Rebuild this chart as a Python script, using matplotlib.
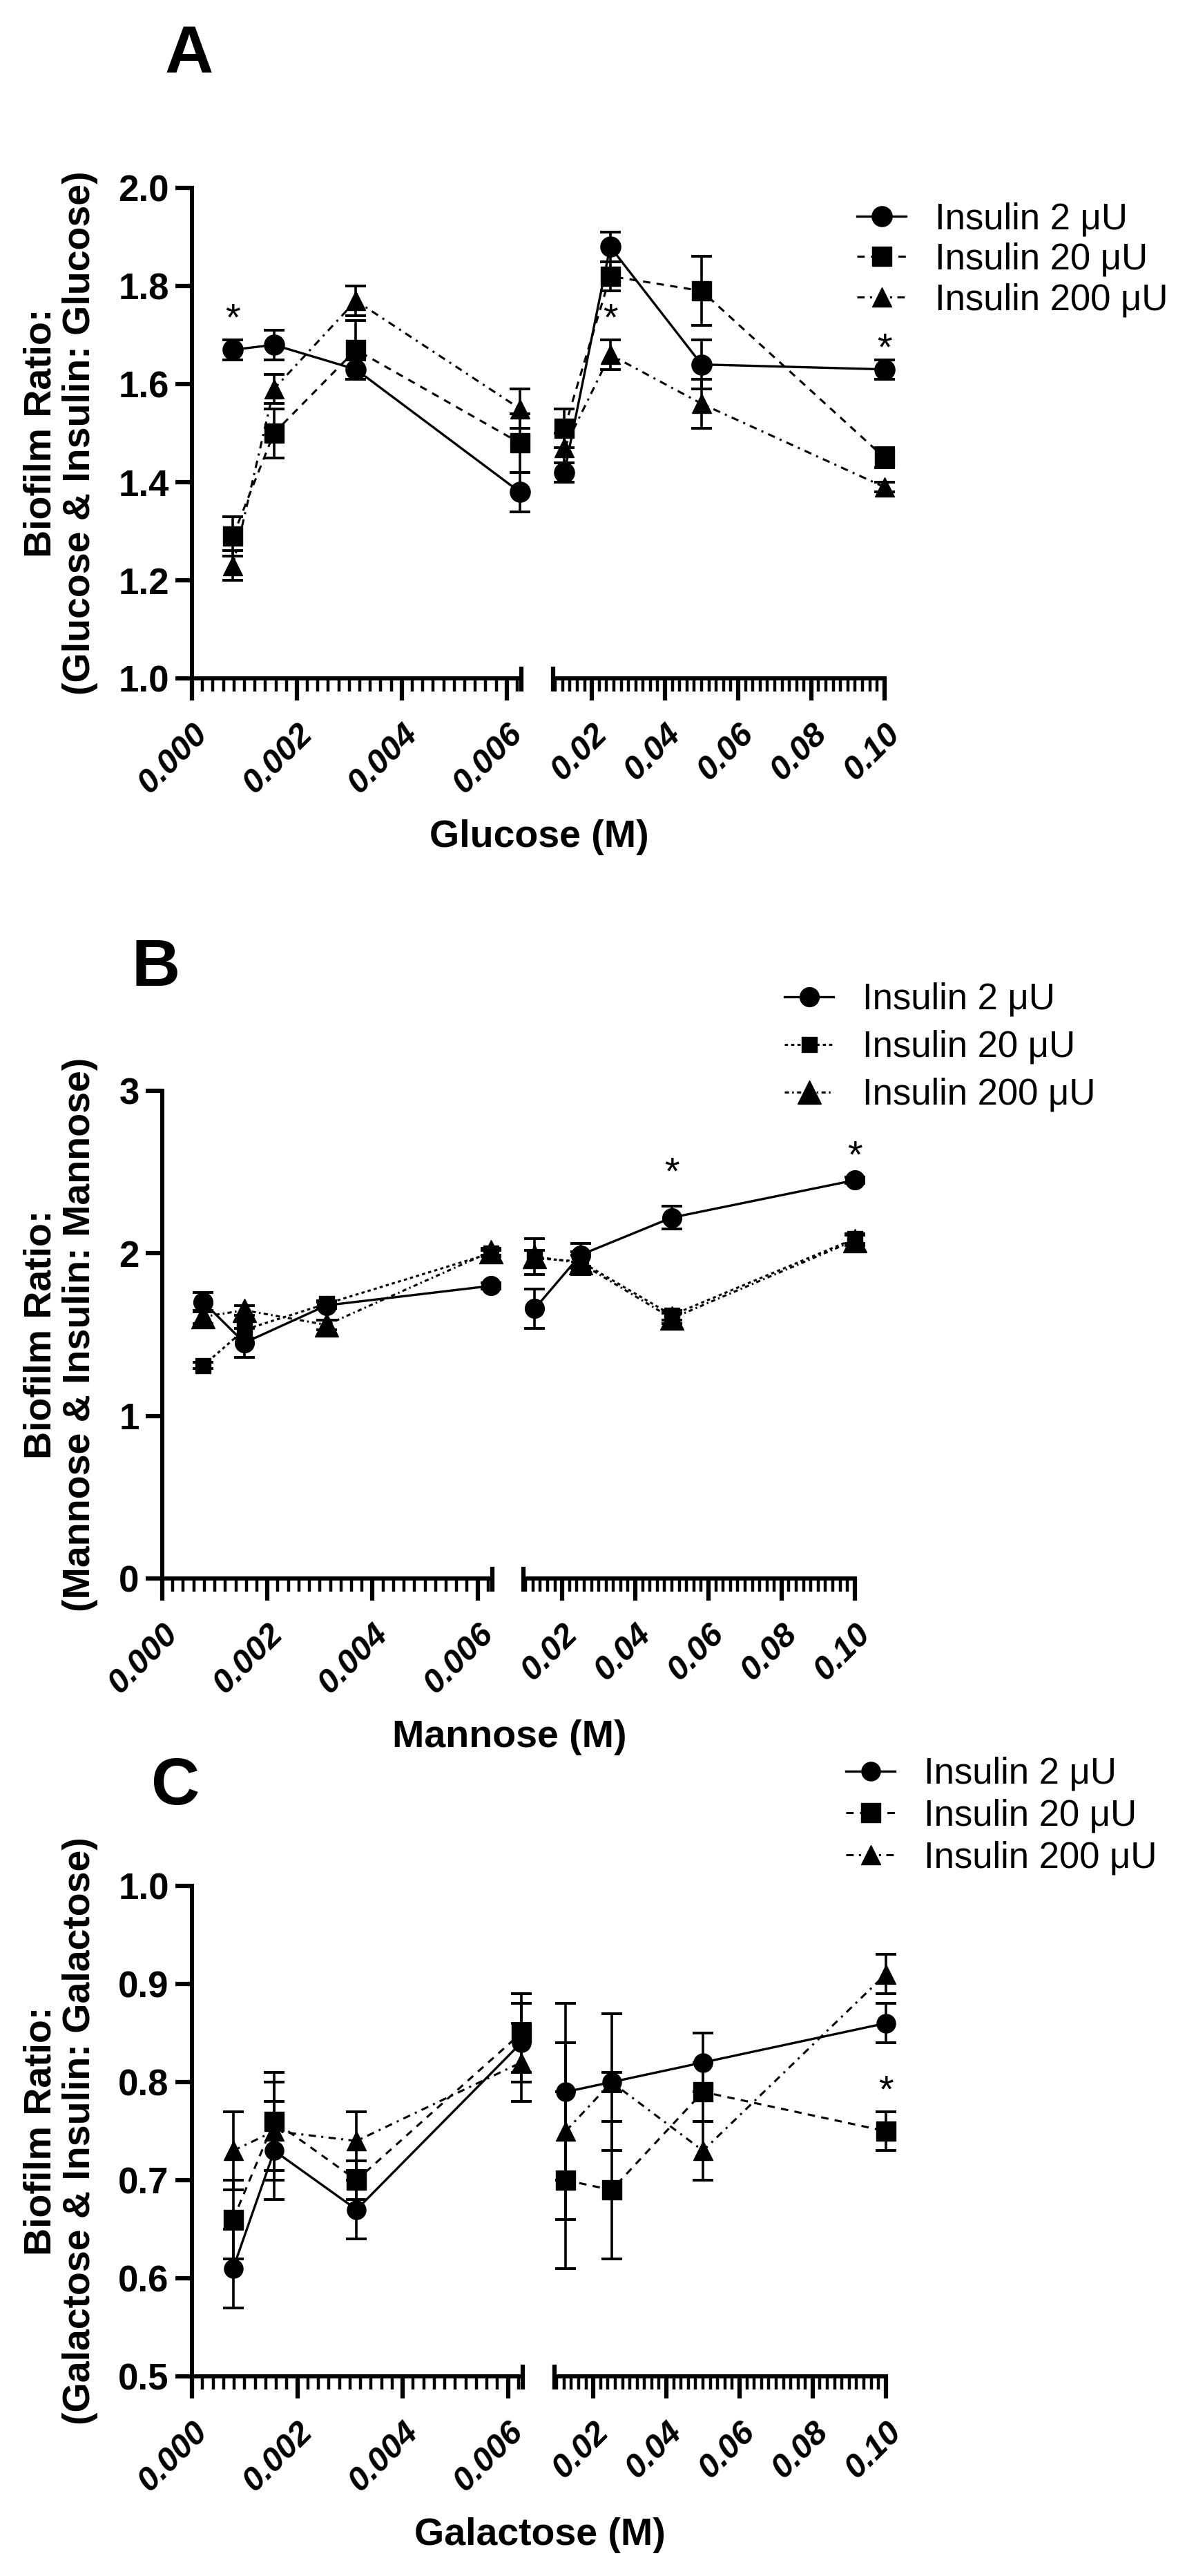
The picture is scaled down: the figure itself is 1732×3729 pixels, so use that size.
import matplotlib
matplotlib.use("Agg")
import matplotlib.pyplot as plt
from matplotlib.ticker import MultipleLocator

plt.rcParams['font.family'] = ['Liberation Sans', 'DejaVu Sans']

W, H = 1732, 3729

# concentrations (M), split by the axis break
conc_low = [0.00078125, 0.0015625, 0.003125, 0.00625]
conc_high = [0.0125, 0.025, 0.05, 0.1]

low_ticks = [0.000, 0.002, 0.004, 0.006]
low_ticklabels = ["0.000", "0.002", "0.004", "0.006"]
high_ticks = [0.02, 0.04, 0.06, 0.08, 0.10]
high_ticklabels = ["0.02", "0.04", "0.06", "0.08", "0.10"]

series_labels = ["Insulin 2 μU", "Insulin 20 μU", "Insulin 200 μU"]

# A - glucose
glu_ins2 = [1.67, 1.68, 1.63, 1.38, 1.42, 1.88, 1.64, 1.63]
glu_ins2_err = [0.02, 0.03, 0.02, 0.04, 0.02, 0.03, 0.05, 0.02]
glu_ins20 = [1.29, 1.50, 1.67, 1.48, 1.51, 1.82, 1.79, 1.45]
glu_ins20_err = [0.04, 0.05, 0.06, 0.06, 0.04, 0.03, 0.07, 0.02]
glu_ins200 = [1.23, 1.59, 1.77, 1.55, 1.47, 1.66, 1.56, 1.39]
glu_ins200_err = [0.03, 0.03, 0.03, 0.04, 0.03, 0.03, 0.05, 0.01]
glu_star_x = [0.00078125, 0.025, 0.1]
glu_star_y = [1.73, 1.73, 1.67]

# B - mannose
man_ins2 = [1.70, 1.45, 1.68, 1.80, 1.66, 1.99, 2.22, 2.45]
man_ins2_err = [0.06, 0.09, 0.02, 0.02, 0.12, 0.07, 0.07, 0.02]
man_ins20 = [1.31, 1.53, 1.69, 2.00, 1.97, 1.95, 1.62, 2.09]
man_ins20_err = [0.02, 0.05, 0.02, 0.02, 0.05, 0.04, 0.03, 0.03]
man_ins200 = [1.61, 1.65, 1.56, 2.01, 1.98, 1.94, 1.60, 2.08]
man_ins200_err = [0.04, 0.03, 0.03, 0.02, 0.11, 0.07, 0.03, 0.03]
man_star_x = [0.05, 0.1]
man_star_y = [2.49, 2.59]

# C - galactose
gal_ins2 = [0.61, 0.73, 0.67, 0.84, 0.79, 0.80, 0.82, 0.86]
gal_ins2_err = [0.04, 0.05, 0.03, 0.04, 0.09, 0.07, 0.03, 0.02]
gal_ins20 = [0.66, 0.76, 0.70, 0.85, 0.70, 0.69, 0.79, 0.75]
gal_ins20_err = [0.04, 0.05, 0.02, 0.04, 0.09, 0.07, 0.03, 0.02]
gal_ins200 = [0.73, 0.75, 0.74, 0.82, 0.75, 0.80, 0.73, 0.91]
gal_ins200_err = [0.04, 0.05, 0.03, 0.04, 0.09, 0.01, 0.03, 0.02]
gal_star_x = [0.1]
gal_star_y = [0.79]

fig = plt.figure(figsize=(W / 100, H / 100), dpi=100)


def px_axes(x0, x1, ytop, ybot):
    return fig.add_axes([x0 / W, 1 - ybot / H, (x1 - x0) / W, (ybot - ytop) / H])


def style_x(ax, ticks, labels, minor):
    ax.set_xticks(ticks)
    ax.set_xticklabels(labels, rotation=45, ha='right', va='top',
                       rotation_mode='anchor', fontsize=35,
                       fontweight='bold', fontstyle='italic')
    ax.xaxis.set_minor_locator(MultipleLocator(minor))
    ax.tick_params(axis='x', which='major', length=23, width=4.5, pad=18)
    ax.tick_params(axis='x', which='minor', length=13.5, width=3.2)
    for s in ['top', 'right', 'left']:
        ax.spines[s].set_visible(False)
    ax.spines['bottom'].set_linewidth(4.3)
    ax.spines['bottom'].set_capstyle('butt')


def panel(box, ylim, ystep, yfmt, series, errs, stars, sizes, dashes,
          ylabel, xlabel, letter, legend_pos):
    xl0, xl1, xr0, xr1, ytop, ybot = box
    hpx = ybot - ytop
    axL = px_axes(xl0, xl1, ytop, ybot)
    axR = px_axes(xr0, xr1, ytop, ybot)
    axL.set_xlim(0, 0.00628)
    axR.set_xlim(0.0094, 0.1006)
    for ax in (axL, axR):
        ax.set_ylim(*ylim)
        ax.patch.set_alpha(0)

    style_x(axL, low_ticks, low_ticklabels, 0.0002)
    style_x(axR, high_ticks, high_ticklabels, 0.002)
    axL.spines['left'].set_visible(True)
    axL.spines['left'].set_linewidth(4.3)
    axL.yaxis.set_major_locator(MultipleLocator(ystep))
    axL.yaxis.set_major_formatter(yfmt)
    axL.tick_params(axis='y', length=17, width=4.5, pad=7, labelsize=38)
    for t in axL.get_yticklabels():
        t.set_fontweight('bold')
    axR.tick_params(axis='y', left=False, labelleft=False)

    # break marks at the ends of the two segments
    for ax, xe in ((axL, 1), (axR, 0)):
        ax.plot([xe, xe], [-19 / hpx, 17 / hpx], transform=ax.transAxes,
                color='k', lw=4.5, solid_capstyle='butt', clip_on=False)

    markers = ['o', 's', '^']
    handles = []
    for i, (vals, err) in enumerate(zip(series, errs)):
        for ax, xs, sl in ((axL, conc_low, slice(0, 4)), (axR, conc_high, slice(4, 8))):
            ax.errorbar(xs, vals[sl], yerr=err[sl], fmt='none', ecolor='k',
                        elinewidth=2.6, capsize=10.5, capthick=2.8,
                        clip_on=False, zorder=2)
            ln, = ax.plot(xs, vals[sl], color='k', linestyle=dashes[i],
                          lw=2.4 if i == 0 else 2.2, marker=markers[i],
                          ms=sizes[i], mfc='k', mec='k', clip_on=False,
                          zorder=3, label=series_labels[i])
        handles.append(ln)

    for sx, sy in zip(*stars):
        ax = axL if sx < 0.007 else axR
        ax.text(sx, sy, '*', ha='center', va='center', fontsize=40,
                clip_on=False)

    lx, ly, lsp = legend_pos
    fig.legend(handles, series_labels, loc='upper left',
               bbox_to_anchor=(lx / W, 1 - ly / H), frameon=False,
               fontsize=38, handlelength=1.35, handletextpad=0.8,
               labelspacing=lsp, borderpad=0, borderaxespad=0)

    yc = (ytop + ybot) / 2
    fig.text(88 / W, 1 - yc / H, ylabel, rotation=90, ha='center', va='center',
             multialignment='center', fontsize=40, fontweight='bold',
             linespacing=1.1)
    fig.text((xl0 + xr1) / 2 / W, 1 - (ybot + 230) / H, xlabel, ha='center',
             va='center', fontsize=40, fontweight='bold')
    lxp, lyp = letter[1]
    fig.text(lxp / W, 1 - lyp / H, letter[0], ha='center', va='baseline',
             fontsize=70, fontweight='bold')


dash_a = ['-', (0, (3.5, 3)), (0, (3.5, 2.5, 1, 2.5))]
dash_b = ['-', (0, (1.5, 1.5)), (0, (2, 1.5, 0.8, 1.5))]

panel((278, 755, 801, 1284, 272, 982), (1.0, 2.0), 0.2, '{x:.1f}',
      [glu_ins2, glu_ins20, glu_ins200],
      [glu_ins2_err, glu_ins20_err, glu_ins200_err],
      (glu_star_x, glu_star_y), [21, 20, 20], dash_a,
      "Biofilm Ratio:\n(Glucose & Insulin: Glucose)", "Glucose (M)",
      ("A", (274, 105)), (1241, 292, 0.17))

panel((235, 713, 758, 1241, 1579, 2285), (0, 3), 1, '{x:.0f}',
      [man_ins2, man_ins20, man_ins200],
      [man_ins2_err, man_ins20_err, man_ins200_err],
      (man_star_x, man_star_y), [20, 16, 25], dash_b,
      "Biofilm Ratio:\n(Mannose & Insulin: Mannose)", "Mannose (M)",
      ("B", (226, 1427)), (1136, 1422, 0.36))

panel((278, 757, 803, 1286, 2730, 3440), (0.5, 1.0), 0.1, '{x:.1f}',
      [gal_ins2, gal_ins20, gal_ins200],
      [gal_ins2_err, gal_ins20_err, gal_ins200_err],
      (gal_star_x, gal_star_y), [19.5, 19.5, 19.5], dash_a,
      "Biofilm Ratio:\n(Galactose & Insulin: Galactose)", "Galactose (M)",
      ("C", (254, 2612)), (1225, 2543, 0.2))

fig.savefig("out.png", dpi=100)
